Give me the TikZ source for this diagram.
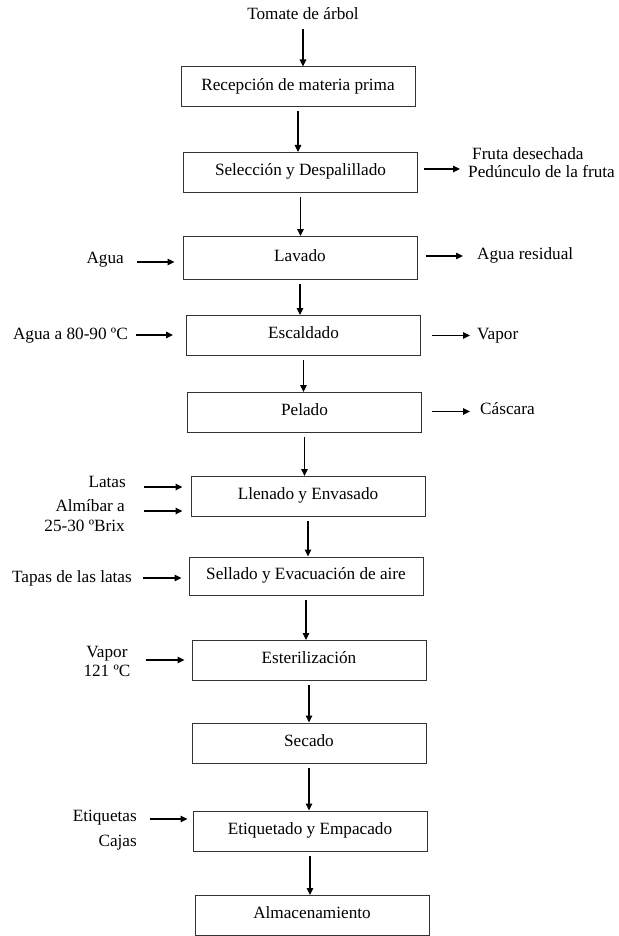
\documentclass[tikz,border=0pt]{standalone}
\usepackage{fontspec}
\setmainfont{Liberation Serif}
\usetikzlibrary{arrows.meta}
\begin{document}
\begin{tikzpicture}[x=1pt,y=-1pt,
  every node/.style={font=\fontsize{17.2}{20}\selectfont},
  lbl/.style={inner sep=0pt, text height=0.95em, text depth=0.05em},
  proc/.style={draw=black!80, line width=1pt, minimum width=234pt, minimum height=40pt, inner sep=0pt, text height=0.76em, text depth=0.14em},
  arr/.style={line width=1.2pt, -{Triangle[length=7pt,width=6.5pt]}}]
\useasboundingbox (0,0) rectangle (618,936);
% process boxes
\node[proc] (b1) at (298,87) {Recepción de materia prima};
\node[proc] (b2) at (300.5,172.5) {Selección y Despalillado};
\node[proc, minimum height=43pt] (b3) at (300,258) {Lavado};
\node[proc] (b4) at (303.5,335.5) {Escaldado};
\node[proc] (b5) at (304.5,412.5) {Pelado};
\node[proc] (b6) at (308,496.5) {Llenado y Envasado};
\node[proc, minimum height=38pt] (b7) at (306,576) {Sellado y Evacuación de aire};
\node[proc] (b8) at (309,660.5) {Esterilización};
\node[proc] (b9) at (309,743) {Secado};
\node[proc] (b10) at (310,831) {Etiquetado y Empacado};
\node[proc] (b11) at (312,915.5) {Almacenamiento};
% labels
\node[lbl] (tom) at (303,15) {Tomate de árbol};
\node[lbl, anchor=west] (fr1) at (472,155) {Fruta desechada};
\node[lbl, anchor=west] (fr2) at (468,173) {Pedúnculo de la fruta};
\node[lbl, anchor=east] (agua) at (124,259) {Agua};
\node[lbl, anchor=west] (ares) at (477,255) {Agua residual};
\node[lbl, anchor=east] (a80) at (128,335) {Agua a 80-90 ºC};
\node[lbl, anchor=west] (vap1) at (477,335) {Vapor};
\node[lbl, anchor=west] (casc) at (480,410) {Cáscara};
\node[lbl, anchor=east] (latas) at (126,483) {Latas};
\node[lbl, anchor=east] (alm1) at (125,507) {Almíbar a};
\node[lbl, anchor=east] (alm2) at (125,527) {25-30 ºBrix};
\node[lbl, anchor=east] (tapas) at (132,578) {Tapas de las latas};
\node[lbl] (vap2) at (107,653) {Vapor};
\node[lbl] (vap3) at (107,672) {121 ºC};
\node[lbl, anchor=east] (eti) at (137,817) {Etiquetas};
\node[lbl, anchor=east] (cajas) at (137,842) {Cajas};
\coordinate (selout) at (460,169);
% main flow
\draw[arr, shorten <=9pt] (tom.south) -- (tom.south |- b1.north);
\foreach \a/\b in {b1/b2,b2/b3,b3/b4,b4/b5,b5/b6,b6/b7,b7/b8,b8/b9,b9/b10,b10/b11}
  \draw[arr, shorten <=4pt] (\a.south) -- (\a.south |- \b.north);
% outputs
\draw[arr, shorten <=6pt] (b2.east |- selout) -- (selout);
\draw[arr, shorten <=8pt, shorten >=14pt] ([yshift=2pt]b3.east) -- ([yshift=2pt]b3.east -| ares.west);
\draw[arr, shorten <=11pt, shorten >=7pt] (b4.east) -- (b4.east -| vap1.west);
\draw[arr, shorten <=10pt, shorten >=10pt] ([yshift=1pt]b5.east) -- ([yshift=1pt]b5.east -| casc.west);
% inputs
\draw[arr, shorten <=13pt, shorten >=8pt] ([yshift=-3pt]agua.east) -- ([yshift=-3pt]agua.east -| b3.west);
\draw[arr, shorten <=8pt, shorten >=13pt] (a80.east) -- (a80.east -| b4.west);
\draw[arr, shorten <=18pt, shorten >=8pt] ([yshift=-4pt]latas.east) -- ([yshift=-4pt]latas.east -| b6.west);
\draw[arr, shorten <=19pt, shorten >=8pt] ([yshift=-4pt]alm1.east) -- ([yshift=-4pt]alm1.east -| b6.west);
\draw[arr, shorten <=11pt, shorten >=7pt] (tapas.east) -- (tapas.east -| b7.west);
\draw[arr, shorten <=18pt, shorten >=7pt] ([yshift=-7pt]vap2.east) -- ([yshift=-7pt]vap2.east -| b8.west);
\draw[arr, shorten <=13pt, shorten >=5pt] ([yshift=-2pt]eti.east) -- ([yshift=-2pt]eti.east -| b10.west);
\end{tikzpicture}
\end{document}
